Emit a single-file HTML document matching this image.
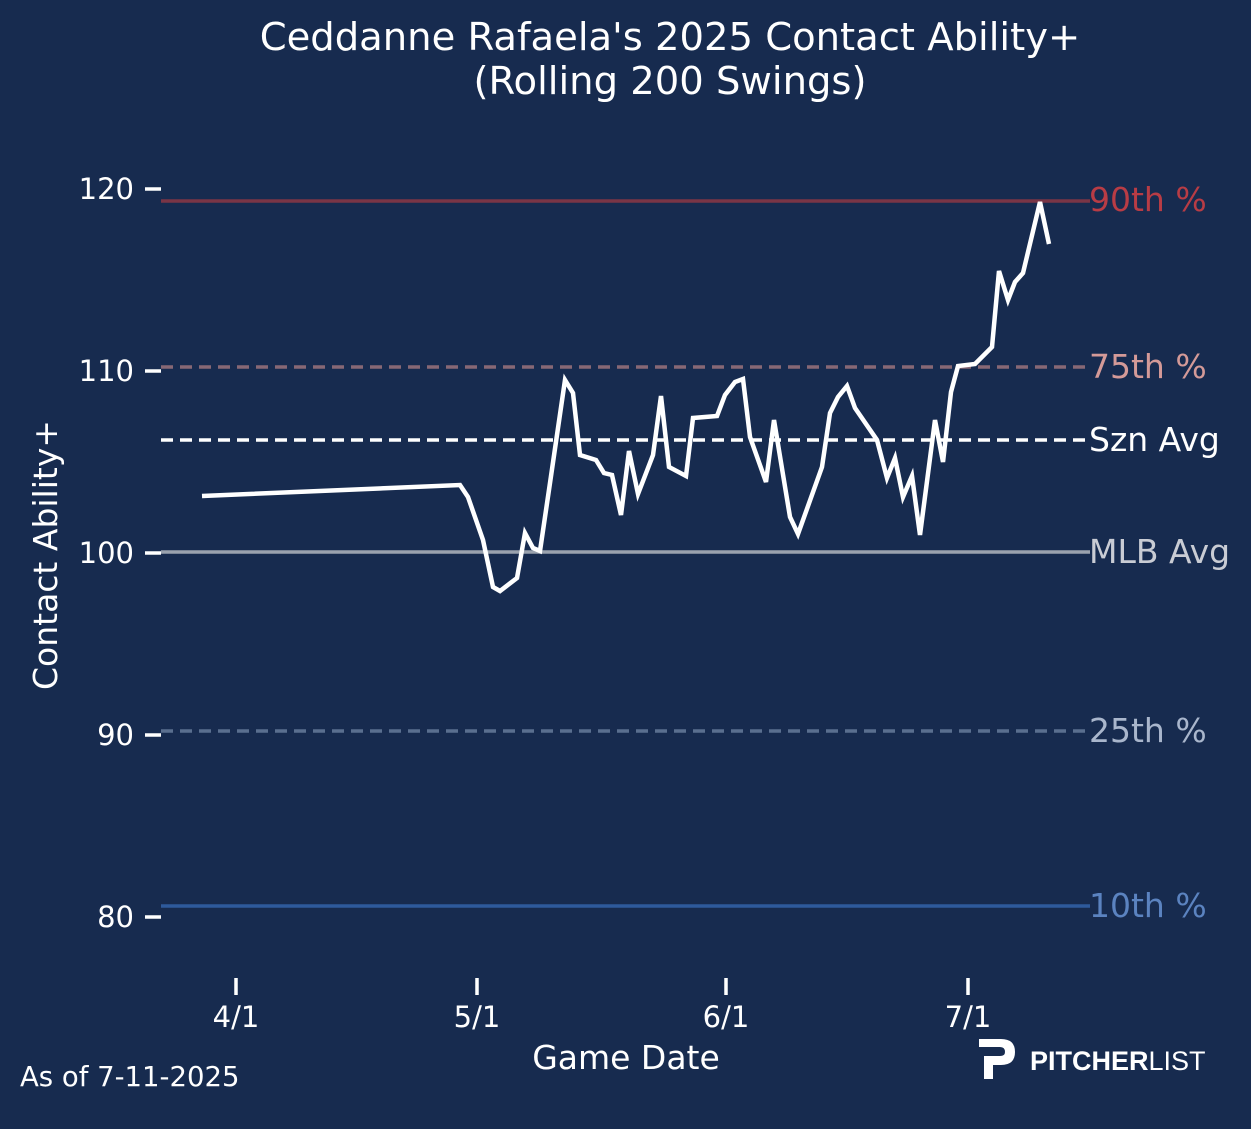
<!DOCTYPE html>
<html><head><meta charset="utf-8"><style>
html,body{margin:0;padding:0;background:#172b4f;}
svg{display:block;font-family:"DejaVu Sans","Liberation Sans",sans-serif;}
</style></head><body>
<svg width="1251" height="1129" viewBox="0 0 1251 1129" xmlns="http://www.w3.org/2000/svg">
<rect width="1251" height="1129" fill="#172b4f"/>
<text x="670" y="50" text-anchor="middle" fill="#fff" font-size="38.5">Ceddanne Rafaela's 2025 Contact Ability+</text>
<text x="670" y="94" text-anchor="middle" fill="#fff" font-size="38.5">(Rolling 200 Swings)</text>

<g stroke="#fff" stroke-width="3.5">
<line x1="145" y1="189" x2="161" y2="189"/>
<line x1="145" y1="371" x2="161" y2="371"/>
<line x1="145" y1="553" x2="161" y2="553"/>
<line x1="145" y1="735" x2="161" y2="735"/>
<line x1="145" y1="917" x2="161" y2="917"/>
<line x1="236" y1="978" x2="236" y2="995"/>
<line x1="477" y1="978" x2="477" y2="995"/>
<line x1="726" y1="978" x2="726" y2="995"/>
<line x1="968" y1="978" x2="968" y2="995"/>
</g>
<g fill="#fff" font-size="29" text-anchor="end">
<text x="134" y="199">120</text>
<text x="134" y="381">110</text>
<text x="134" y="563">100</text>
<text x="134" y="745">90</text>
<text x="134" y="927">80</text>
</g>
<g fill="#fff" font-size="29" text-anchor="middle">
<text x="236" y="1027">4/1</text>
<text x="477" y="1027">5/1</text>
<text x="726" y="1027">6/1</text>
<text x="968" y="1027">7/1</text>
</g>
<text x="626" y="1069" text-anchor="middle" fill="#fff" font-size="33">Game Date</text>
<text transform="translate(57,555) rotate(-90)" text-anchor="middle" fill="#fff" font-size="33">Contact Ability+</text>

<line x1="161" y1="201" x2="1090" y2="201" stroke="#7a3546" stroke-width="3.5"/>
<line x1="161" y1="367" x2="1090" y2="367" stroke="#876875" stroke-width="3.5" stroke-dasharray="12,7"/>
<line x1="161" y1="440" x2="1090" y2="440" stroke="#fff" stroke-width="3.5" stroke-dasharray="12,7"/>
<line x1="161" y1="552" x2="1090" y2="552" stroke="#9aa2ae" stroke-width="3.5"/>
<line x1="161" y1="731" x2="1090" y2="731" stroke="#5a6f8f" stroke-width="3.5" stroke-dasharray="12,7"/>
<line x1="161" y1="906" x2="1090" y2="906" stroke="#2e5a9c" stroke-width="3.5"/>

<g font-size="33">
<text x="1089" y="211" fill="#b83c45">90th %</text>
<text x="1089" y="378" fill="#d49a98">75th %</text>
<text x="1089" y="451" fill="#fff">Szn Avg</text>
<text x="1089" y="563" fill="#c9ccd4">MLB Avg</text>
<text x="1089" y="742" fill="#a9b6cc">25th %</text>
<text x="1089" y="917" fill="#5b83c0">10th %</text>
</g>

<polyline fill="none" stroke="#fff" stroke-width="4.5" stroke-linejoin="miter" points="202,496 460,485 468,497 483,540 493,587 500,591 517,578 525,533 533,548 540,551 550,483 565,380 573,393 580,455 596,460 604,473 612,475 621,515 629,451 638,494 653,455 661,396 669,467 686,476 693,418 717,416 725,395 735,382 743,379 750,437 766,482 774,420 790,517 798,534 822,467 830,413 838,397 847,386 855,408 877,440 887,478 895,458 903,497 912,476 920,535 935,420 943,462 951,392 958,366 975,364 992,347 999,271 1008,300 1015,282 1023,273 1040,202 1049,244"/>

<text x="20" y="1086" fill="#fff" font-size="27.5">As of 7-11-2025</text>

<path d="M979,1039 h22 q14,0 14,13 q0,13 -14,13 h-8 v14 h-9 v-23 h16 q5,0 5,-4 q0,-5 -5,-5 h-21 z" fill="#fff"/>
<text x="1030" y="1070" fill="#fff" font-size="27" font-weight="bold" font-family="Liberation Sans, sans-serif">PITCHER<tspan font-weight="normal">LIST</tspan></text>
</svg>
</body></html>
